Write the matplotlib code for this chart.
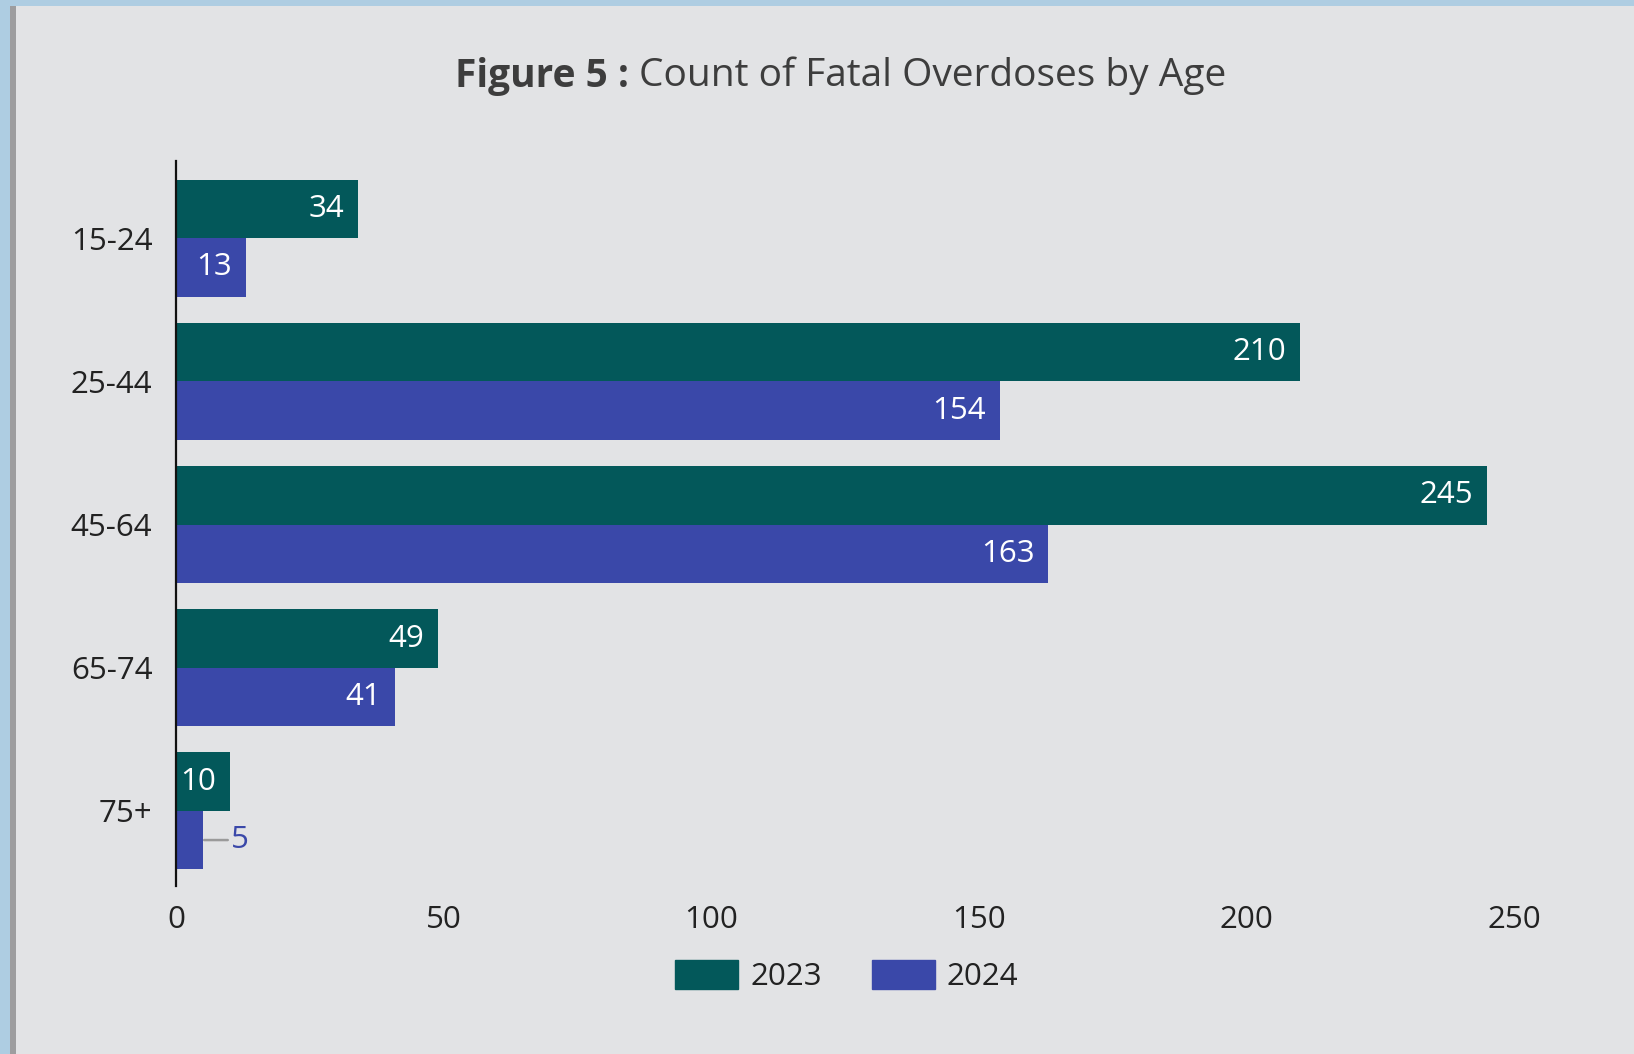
import matplotlib
matplotlib.use("Agg")
import matplotlib.pyplot as plt
from matplotlib.patches import Rectangle, Patch
import numpy as np

# Data
age_groups = ["15-24", "25-44", "45-64", "65-74", "75+"]
deaths_2023 = [34, 210, 245, 49, 10]
deaths_2024 = [13, 154, 163, 41, 5]
series_labels = ["2023", "2024"]
x_ticks = [0, 50, 100, 150, 200, 250]

c2023 = "#03585a"
c2024 = "#3a48a9"
bg = "#e2e3e5"
txt = "#222222"
W, H = 1634, 1054

plt.rcParams["font.family"] = ["Open Sans", "DejaVu Sans"]

fig = plt.figure(figsize=(W / 100, H / 100), dpi=100, facecolor=bg)

# page frame strips
fig.add_artist(Rectangle((0, 1 - 6 / H), 1, 6 / H, transform=fig.transFigure,
                         facecolor="#aecde2", edgecolor="none", zorder=0))
fig.add_artist(Rectangle((0, 0), 10 / W, 1, transform=fig.transFigure,
                         facecolor="#aecde2", edgecolor="none", zorder=0))
fig.add_artist(Rectangle((10 / W, 0), 6 / W, 1 - 6 / H, transform=fig.transFigure,
                         facecolor="#9d9d9f", edgecolor="none", zorder=0))

ax = fig.add_axes([176 / W, 1 - 886 / H, (1514 - 176) / W, (886 - 161) / H])
ax.set_facecolor(bg)

y = np.arange(len(age_groups))
h = 0.408
bars23 = ax.barh(y - h / 2, deaths_2023, height=h, color=c2023)
bars24 = ax.barh(y + h / 2, deaths_2024, height=h, color=c2024)

ax.set_xlim(0, 250)
ax.set_ylim(4.525, -0.54)

for spine in ["top", "right", "bottom"]:
    ax.spines[spine].set_visible(False)
ax.spines["left"].set_linewidth(1.6)
ax.spines["left"].set_color("#111111")

fs = 22.5
ax.set_yticks(y)
ax.set_yticklabels(age_groups)
ax.set_xticks(x_ticks)
ax.set_xticklabels([str(v) for v in x_ticks])
ax.tick_params(axis="both", length=0, labelsize=fs, labelcolor=txt)
ax.tick_params(axis="y", pad=17)
ax.tick_params(axis="x", pad=14)

# value labels
for bars, vals, col in [(bars23, deaths_2023, c2023), (bars24, deaths_2024, c2024)]:
    for b, v in zip(bars, vals):
        yc = b.get_y() + b.get_height() / 2
        if v >= 10:
            ax.annotate(str(v), (v, yc), xytext=(-10, 0), textcoords="offset points",
                        ha="right", va="center", color="white", fontsize=fs)
        else:
            ax.annotate(str(v), (v, yc), xytext=(20, 0), textcoords="offset points",
                        ha="left", va="center", color=col, fontsize=fs,
                        arrowprops=dict(arrowstyle="-", color="#9a9a9a", lw=1.8,
                                        shrinkA=0, shrinkB=1))

# title: bold prefix followed by regular text, centred as a whole
ty = 1 - 76 / H
t1 = fig.text(0, ty, "Figure 5 : ", ha="left", va="center",
              fontsize=28, fontweight="bold", color="#3d3d3d")
t2 = fig.text(0, ty, "Count of Fatal Overdoses by Age", ha="left", va="center",
              fontsize=28, color="#3d3d3d")
r = fig.canvas.get_renderer()
w1 = t1.get_window_extent(r).width / (W)
w2 = t2.get_window_extent(r).width / (W)
x0 = 841 / W - (w1 + w2) / 2
t1.set_x(x0)
t2.set_x(x0 + w1)

handles = [Patch(facecolor=c2023, edgecolor=c2023), Patch(facecolor=c2024, edgecolor=c2024)]
fig.legend(handles, series_labels, loc="center", bbox_to_anchor=(847 / W, 1 - 976 / H),
           ncol=2, frameon=False, fontsize=fs, handlelength=2.0, handleheight=1.05,
           handletextpad=0.4, columnspacing=1.6, labelcolor=txt)

fig.savefig("out.png", dpi=100, facecolor=bg)
